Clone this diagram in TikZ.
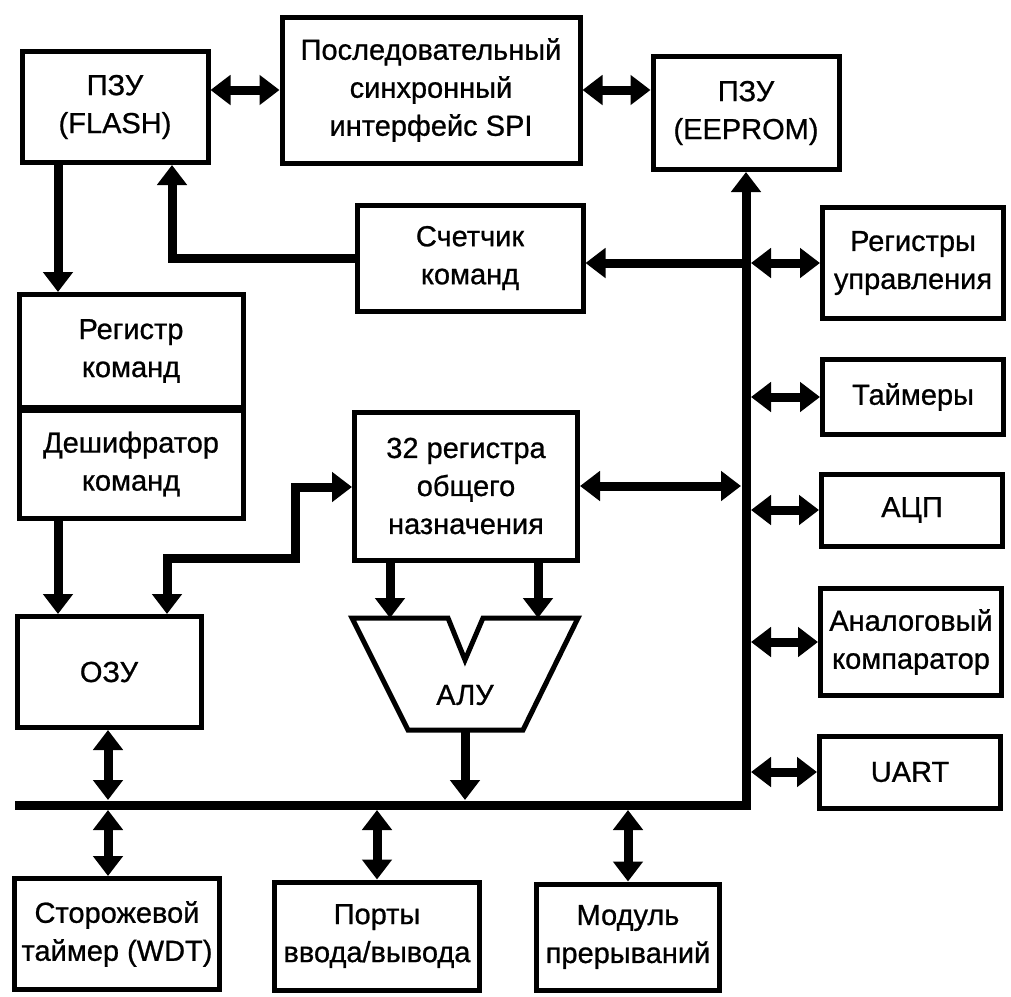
\documentclass[tikz,border=0pt]{standalone}
\usepackage{fontspec}
\setmainfont{Liberation Sans}[FakeBold=0.8]
\usetikzlibrary{arrows.meta,calc}

\begin{document}
\begin{tikzpicture}[x=1pt,y=-1pt,
  >={Triangle[width=29pt,length=20pt]},
  blk/.style={draw, line width=5pt, align=center, inner sep=0pt,
              font=\fontsize{29}{38}\selectfont},
  lbl/.style={align=center, inner sep=0pt, font=\fontsize{29}{38}\selectfont},
  conn/.style={line width=9pt, ->},
  both/.style={line width=9pt, <->},
  busline/.style={line width=9pt, line join=miter, ->},
  aluline/.style={draw, line width=5pt, line join=miter}]

\useasboundingbox (0,0) rectangle (1011,996);

% --- blocks ---
\node[blk, minimum width=186pt, minimum height=111pt] (flash)  at (115,107) {ПЗУ\\(FLASH)};
\node[blk, minimum width=298pt, minimum height=146pt] (spi)    at (431,90)  {Последовательный\\синхронный\\интерфейс SPI};
\node[blk, minimum width=186pt, minimum height=113pt] (eeprom) at (746,113) {ПЗУ\\(EEPROM)};
\node[blk, minimum width=226pt, minimum height=106pt] (pc)     at (470,258) {Счетчик\\команд};
\node[blk, minimum width=181pt, minimum height=111pt] (ctrl)   at (913,263) {Регистры\\управления};
\node[blk, minimum width=181pt, minimum height=75pt]  (timers) at (913,397) {Таймеры};
\node[blk, minimum width=181pt, minimum height=72pt]  (adc)    at (912,510) {АЦП};
\node[blk, minimum width=181pt, minimum height=107pt] (comp)   at (911,642) {Аналоговый\\компаратор};
\node[blk, minimum width=181pt, minimum height=72pt]  (uart)   at (910,772) {UART};
\node[blk, minimum width=224pt, minimum height=113pt] (ir)     at (131,351) {Регистр\\команд};
\node[blk, minimum width=224pt, minimum height=108pt] (dec)    at (131,464) {Дешифратор\\команд};
\node[blk, minimum width=223pt, minimum height=148pt] (gpr)    at (466,486) {32 регистра\\общего\\назначения};
\node[blk, minimum width=184pt, minimum height=111pt] (ram)    at (109,672) {ОЗУ};
\node[blk, minimum width=205pt, minimum height=111pt] (wdt)    at (117,934) {Сторожевой\\таймер (WDT)};
\node[blk, minimum width=205pt, minimum height=108pt] (io)     at (377,936) {Порты\\ввода/вывода};
\node[blk, minimum width=183pt, minimum height=106pt] (irq)    at (628,937) {Модуль\\прерываний};

% --- ALU ---
\draw[aluline] (352,618) -- (448,618) -- (465,660) -- (483,618) -- (578,618)
               -- (523,730) -- (408,730) -- cycle;
\node[lbl] (alu) at (465,695) {АЛУ};
\coordinate (aluin1) at (390,618);
\coordinate (aluin2) at (538,618);
\coordinate (aluout) at (465,730);

% --- bus geometry ---
\coordinate (bL) at (15,805);
\coordinate (bR) at (746,805);
\coordinate (bT) at (0,800);
\coordinate (bB) at (0,810);
\coordinate (vL) at (741,0);
\coordinate (vR) at (751,0);
\coordinate (fb) at (172,0);
\coordinate (xf) at (58,0);
\coordinate (xw) at (108,0);
% bends of the RAM <-> register file link
\coordinate (ra) at (167,558);
\coordinate (rb) at (295,558);
\coordinate (rc) at (295,487);

% system bus
\draw[busline] (bL) -- (bR) -- (eeprom.south);

% top row
\draw[both] (flash.east |- spi.west) -- (spi.west);
\draw[both] (spi.east) -- (spi.east -| eeprom.west);

% program memory path
\draw[conn] (flash.south -| xf) -- (ir.north -| xf);
\draw[conn] (dec.south -| xf) -- (ram.north -| xf);
\draw[conn] (pc.west) -- (pc.west -| fb) -- (fb |- flash.south);
\draw[conn] (ctrl.west -| bR) -- (ctrl.west -| pc.east);

% peripherals on the right
\foreach \n in {ctrl,timers,adc,comp,uart}
  \draw[both] (\n.west -| vR) -- (\n.west);

% register file
\draw[both] (gpr.east) -- (gpr.east -| vL);
\draw[both] (ram.north -| ra) -- (ra) -- (rb) -- (rc) -- (rc -| gpr.west);
\draw[conn] (gpr.south -| aluin1) -- (aluin1);
\draw[conn] (gpr.south -| aluin2) -- (aluin2);
\draw[conn] (aluout) -- (aluout |- bT);

% devices below the bus
\draw[both] (ram.south -| xw) -- (xw |- bT);
\draw[both] (xw |- bB) -- (wdt.north -| xw);
\draw[both] (io.north |- bB) -- (io.north);
\draw[both] (irq.north |- bB) -- (irq.north);

\end{tikzpicture}
\end{document}
